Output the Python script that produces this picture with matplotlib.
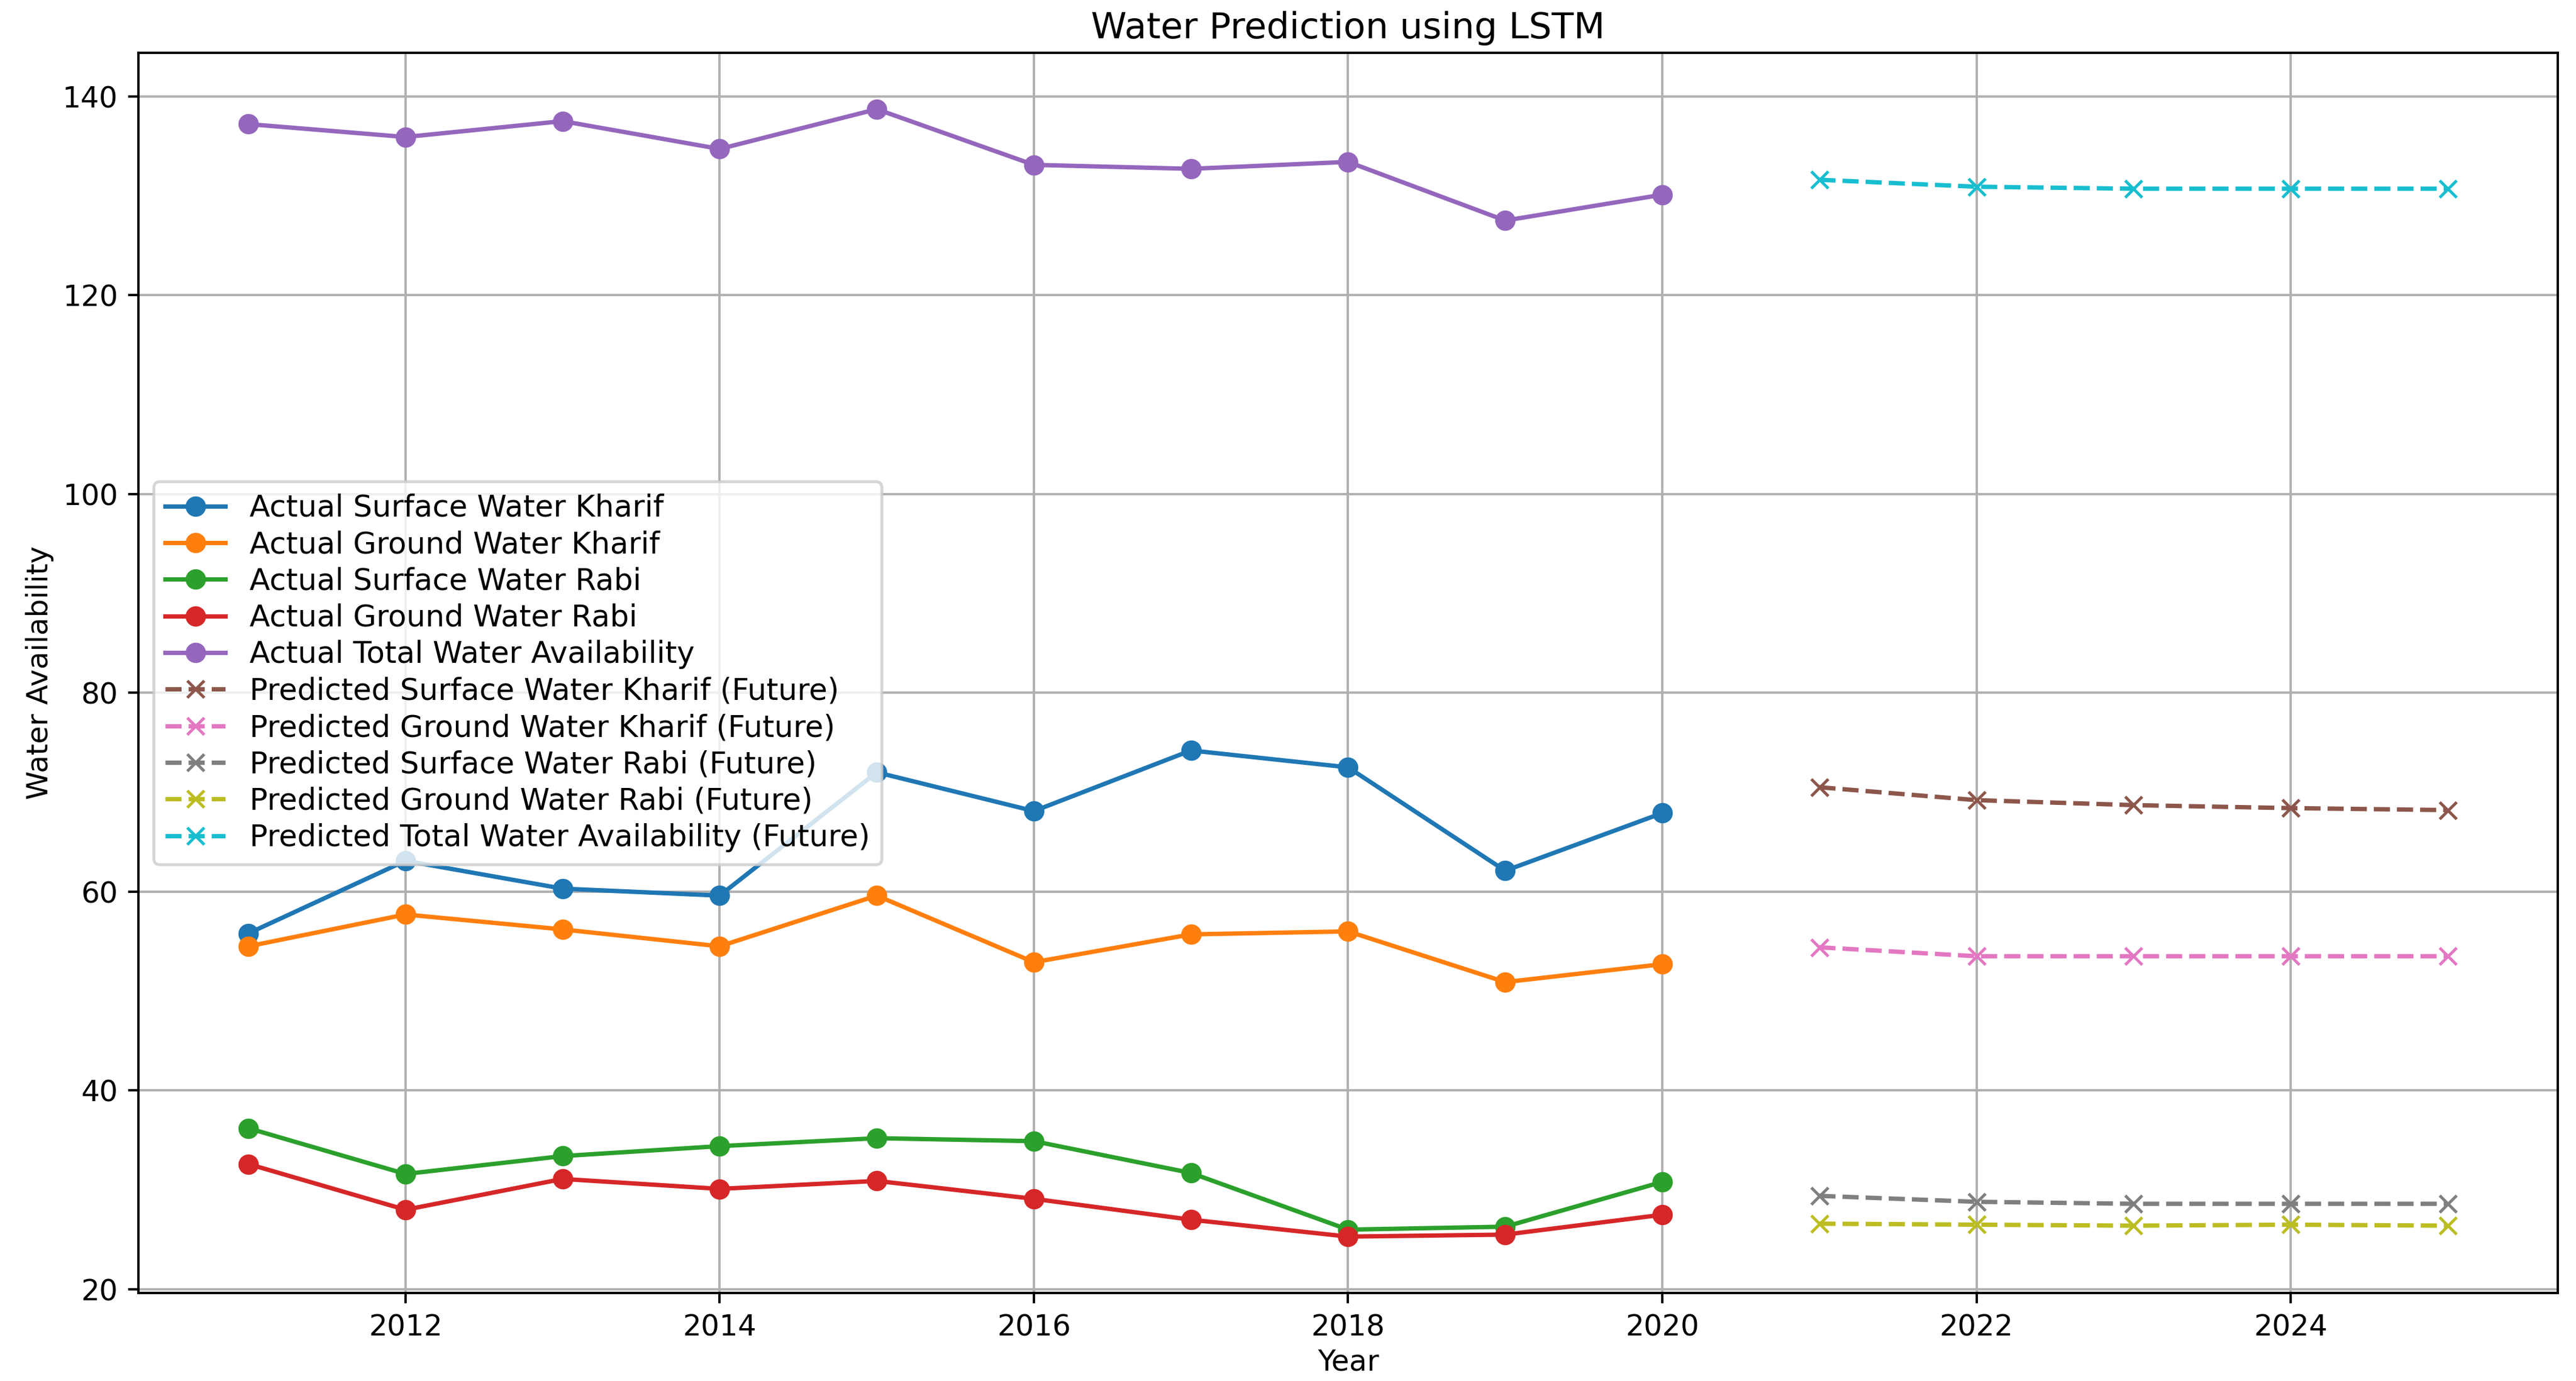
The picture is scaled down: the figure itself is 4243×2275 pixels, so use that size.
import matplotlib
matplotlib.use("Agg")
import matplotlib.pyplot as plt

years_actual = [2011, 2012, 2013, 2014, 2015, 2016, 2017, 2018, 2019, 2020]
years_future = [2021, 2022, 2023, 2024, 2025]

surface_kharif = [55.8, 63.1, 60.3, 59.6, 72.0, 68.1, 74.2, 72.5, 62.1, 67.9]
ground_kharif = [54.5, 57.7, 56.2, 54.5, 59.6, 52.9, 55.7, 56.0, 50.9, 52.7]
surface_rabi = [36.2, 31.6, 33.4, 34.4, 35.2, 34.9, 31.7, 26.0, 26.3, 30.8]
ground_rabi = [32.6, 28.0, 31.1, 30.1, 30.9, 29.1, 27.0, 25.3, 25.5, 27.5]
total_water = [137.2, 135.9, 137.5, 134.7, 138.7, 133.1, 132.7, 133.4, 127.5, 130.1]

pred_surface_kharif = [70.5, 69.2, 68.7, 68.4, 68.2]
pred_ground_kharif = [54.4, 53.5, 53.5, 53.5, 53.5]
pred_surface_rabi = [29.4, 28.8, 28.6, 28.6, 28.6]
pred_ground_rabi = [26.6, 26.5, 26.4, 26.5, 26.4]
pred_total = [131.6, 130.9, 130.7, 130.7, 130.7]

actual_labels = ["Actual Surface Water Kharif", "Actual Ground Water Kharif",
                 "Actual Surface Water Rabi", "Actual Ground Water Rabi",
                 "Actual Total Water Availability"]
pred_labels = ["Predicted Surface Water Kharif (Future)", "Predicted Ground Water Kharif (Future)",
               "Predicted Surface Water Rabi (Future)", "Predicted Ground Water Rabi (Future)",
               "Predicted Total Water Availability (Future)"]

dpi = 345
fig = plt.figure(figsize=(4243 / dpi, 2275 / dpi), dpi=dpi)
ax = fig.add_axes([228 / 4243, 1 - 2130 / 2275, (4213 - 228) / 4243, (2130 - 87) / 2275])

for ser, lab in zip([surface_kharif, ground_kharif, surface_rabi, ground_rabi, total_water], actual_labels):
    ax.plot(years_actual, ser, marker="o", label=lab)
for ser, lab in zip([pred_surface_kharif, pred_ground_kharif, pred_surface_rabi, pred_ground_rabi, pred_total], pred_labels):
    ax.plot(years_future, ser, marker="x", linestyle="--", label=lab)

ax.set_title("Water Prediction using LSTM", fontsize=12.4, pad=5)
ax.set_xlabel("Year", labelpad=2)
ax.set_ylabel("Water Availability", labelpad=3)
ax.grid(True)
ax.legend(loc="center left", fontsize=10.3, labelspacing=0.25)

fig.savefig("out.png", dpi=dpi)
